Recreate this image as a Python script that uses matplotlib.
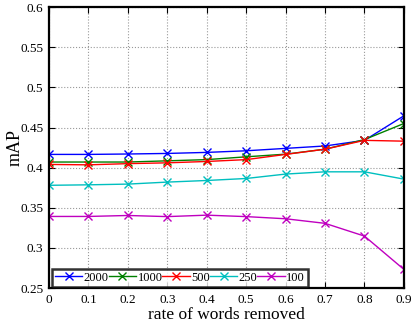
import matplotlib
matplotlib.use("Agg")
import matplotlib.pyplot as plt

plt.rcParams['font.family'] = ['Liberation Serif', 'DejaVu Serif']
plt.rcParams['mathtext.fontset'] = 'stix'

rates = [0, 0.1, 0.2, 0.3, 0.4, 0.5, 0.6, 0.7, 0.8, 0.9]
labels = ['2000', '1000', '500', '250', '100']
map_2000 = [0.4165, 0.4165, 0.417, 0.4177, 0.419, 0.421, 0.424, 0.427, 0.434, 0.4646]
map_1000 = [0.407, 0.407, 0.407, 0.4085, 0.410, 0.4135, 0.4168, 0.423, 0.435, 0.455]
map_500 = [0.404, 0.4035, 0.405, 0.406, 0.4077, 0.410, 0.4165, 0.423, 0.434, 0.433]
map_250 = [0.378, 0.3786, 0.3795, 0.382, 0.384, 0.3865, 0.392, 0.3948, 0.3948, 0.3857]
map_100 = [0.3392, 0.3392, 0.3404, 0.339, 0.3408, 0.339, 0.3363, 0.3306, 0.3147, 0.2732]
series = [map_2000, map_1000, map_500, map_250, map_100]
colors = ['#0000ff', '#008000', '#ff0000', '#00bfbf', '#bf00bf']

fig = plt.figure(figsize=(4.13, 3.24), dpi=100)
ax = fig.add_axes([0.1186, 0.111, 0.8594, 0.867])
for vals, lab, c in zip(series, labels, colors):
    ax.plot(rates, vals, color=c, marker='x', markersize=6, linewidth=1, label=lab)

ax.set_xlim(0, 0.9)
ax.set_ylim(0.25, 0.6)
ax.set_xticks(rates)
ax.set_xticklabels(['0'] + [f'{r:g}' for r in rates[1:]])
yt = [0.25, 0.3, 0.35, 0.4, 0.45, 0.5, 0.55, 0.6]
ax.set_yticks(yt)
ax.set_yticklabels([f'{v:g}' for v in yt])
ax.tick_params(direction='in', top=True, right=True, labelsize=9.5, length=4, width=0.8,
               colors='black', pad=4)
ax.grid(True, linestyle=':', color='#999999', linewidth=0.8)
for s in ax.spines.values():
    s.set_linewidth(1.6)
ax.set_xlabel('rate of words removed', fontsize=12.5, labelpad=1)
ax.set_ylabel('mAP', fontsize=13)
ax.yaxis.set_label_coords(-0.070, 0.5)
leg = ax.legend(loc='lower left', ncol=5, fontsize=9, frameon=True, fancybox=False,
                edgecolor='black', handlelength=2.2, handletextpad=0.1, columnspacing=0.0,
                borderpad=0.25, borderaxespad=0.0, bbox_to_anchor=(0.008, 0.004),
                markerscale=0.85)
leg.get_frame().set_linewidth(1.8)
fig.savefig('out.png', dpi=100)
